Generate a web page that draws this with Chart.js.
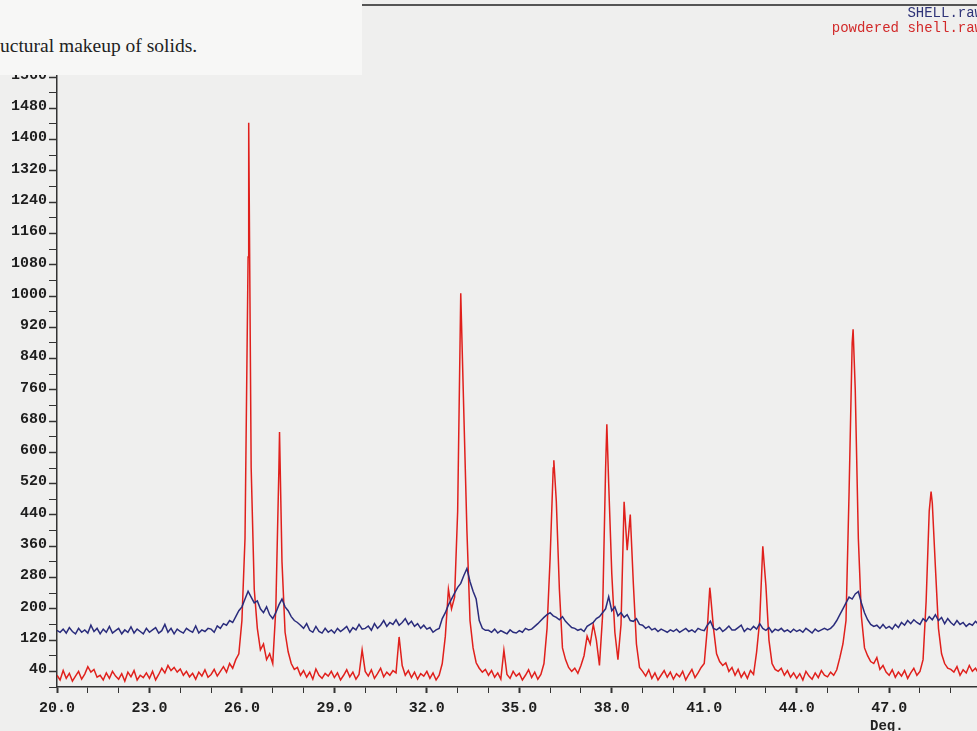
<!DOCTYPE html>
<html>
<head>
<meta charset="utf-8">
<script src="https://cdn.jsdelivr.net/npm/chart.js@4/dist/chart.umd.min.js"></script>
<style>
  html, body { margin: 0; padding: 0; background: #efefee; overflow: hidden; }
  #wrap { position: relative; width: 977px; height: 731px; }
  #scan { position: absolute; left: 0; top: 0; }
  .page-box { position: absolute; left: 0; top: 0; width: 362px; height: 75px; background: #f7f7f6; }
  .page-text { position: absolute; left: 0; top: 35px; font: 19.5px 'Liberation Serif', serif; color: #222; white-space: nowrap; }
  .top-rule { position: absolute; left: 362px; top: 4px; width: 615px; height: 2px; background: #555; }
  .legend { position: absolute; right: -6px; font: 14px 'Liberation Mono', monospace; white-space: nowrap; text-align: right; }
  .unit { position: absolute; left: 870px; top: 718px; font: bold 14px 'Liberation Mono', monospace; color: #222; }
</style>
</head>
<body>
<div id="wrap">
  <canvas id="scan" width="977" height="731"></canvas>
  <div class="page-box"><div class="page-text">uctural makeup of solids.</div></div>
  <div class="top-rule"></div>
  <div class="legend" style="top:5px;color:#2f3478">SHELL.raw</div>
  <div class="legend" style="top:20px;color:#d22a2a">powdered shell.raw</div>
  <div class="unit">Deg.</div>
</div>
<script>
// --- scan grid (2-theta, deg) -------------------------------------
const scanStart = 20.0;
const scanStep = 0.1;

// SHELL.raw counts, one row per degree (x.0 .. x.9), last value = 50.0
const shellCounts = [
  145, 140, 148, 138, 152, 142, 136, 150, 140, 146,
  138, 158, 142, 150, 136, 148, 140, 155, 138, 144,
  150, 136, 146, 140, 154, 138, 148, 142, 136, 150,
  140, 146, 152, 138, 144, 160, 140, 150, 136, 148,
  142, 138, 150, 144, 140, 156, 138, 146, 142, 150,
  148, 140, 156, 150, 162, 158, 170, 165, 180, 195,
  205, 225, 245, 230, 215, 220, 200, 190, 205, 185,
  175, 190, 210, 225, 205, 195, 180, 170, 165, 158,
  150, 162, 145, 140, 155, 142, 138, 150, 140, 146,
  138, 150, 142, 148, 155, 140, 152, 146, 160, 148,
  150, 156, 145, 162, 150, 158, 170, 155, 165, 160,
  172, 158, 165, 175, 160, 168, 155, 162, 150, 158,
  148, 152, 140, 146, 150, 175, 190, 210, 225, 240,
  255, 265, 285, 303, 270, 245, 225, 170, 150, 145,
  145, 140, 148, 138, 144, 140, 136, 146, 140, 138,
  144, 140, 150, 146, 148, 155, 162, 170, 178, 185,
  190, 182, 178, 172, 180, 168, 160, 152, 150, 145,
  148, 142, 155, 160, 165, 175, 180, 190, 200, 231,
  195, 205, 182, 190, 178, 185, 170, 168, 175, 160,
  158, 150, 155, 146, 150, 142, 148, 144, 140, 146,
  142, 148, 140, 145, 150, 142, 146, 140, 150, 146,
  144, 158, 168, 150, 146, 152, 142, 148, 156, 146,
  146, 152, 158, 142, 150, 146, 155, 148, 162, 150,
  145, 152, 140, 148, 144, 150, 142, 146, 140, 148,
  142, 146, 140, 150, 144, 138, 148, 142, 146, 150,
  146, 150, 158, 170, 185, 200, 215, 230, 225, 238,
  244, 215, 190, 172, 160, 155, 158, 150, 160, 150,
  155, 148, 160, 152, 165, 158, 170, 162, 172, 165,
  160, 175, 168, 180, 172, 185, 170, 178, 162, 175,
  165, 158, 170, 160, 165, 155, 162, 158, 168, 160,
  162
];

// powdered shell.raw counts on the same grid
const powderCounts = [
  30, 18, 42, 22, 35, 15, 28, 40, 20, 33,
  52, 38, 45, 25, 30, 18, 36, 22, 40, 28,
  20, 34, 15, 38, 26, 42, 18, 30, 24, 36,
  22, 40, 18, 32, 48, 36, 55, 42, 50, 38,
  46, 30, 40, 26, 35, 20, 38, 28, 44, 25,
  32, 45, 28, 40, 52, 38, 60, 48, 70, 85,
  170, 380, 1100, 560, 250, 150, 95, 110, 70, 85,
  60, 200, 560, 320, 140, 90, 60, 45, 50, 30,
  42, 25, 38, 20, 46, 30, 22, 35, 28, 40,
  24, 36, 18, 30, 44, 26, 38, 20, 32, 95,
  40, 28, 44, 22, 34, 48, 26, 38, 30, 42,
  36, 128, 55, 30, 42, 24, 38, 20, 34, 28,
  40, 22, 36, 18, 30, 60, 130, 250, 200, 230,
  450, 1007, 700, 400, 170, 100, 62, 48, 38, 45,
  30, 42, 25, 36, 20, 94, 32, 22, 40, 28,
  35, 18, 30, 44, 24, 38, 20, 32, 60, 150,
  330, 560, 476, 250, 100, 70, 50, 40, 48, 35,
  55, 80, 130, 110, 160, 120, 55, 180, 560, 520,
  290, 140, 70, 160, 474, 350, 441, 264, 110, 50,
  40, 28, 44, 22, 36, 18, 30, 42, 25, 38,
  20, 34, 26, 40, 18, 32, 45, 24, 36, 50,
  60, 150, 240, 150, 85, 65, 55, 62, 40, 50,
  30, 45, 25, 38, 22, 42, 32, 90, 170, 360,
  260, 120, 60, 45, 40, 48, 30, 42, 25, 36,
  22, 34, 18, 40, 28, 20, 36, 24, 42, 30,
  26, 38, 30, 44, 75, 110, 170, 500, 880, 760,
  380, 180, 100, 80, 65, 60, 75, 45, 55, 38,
  30, 44, 25, 38, 28, 42, 22, 36, 48, 30,
  40, 70, 220, 450, 470, 307, 150, 85, 60, 48,
  45, 38, 52, 30, 44, 36, 55, 40, 48, 35,
  42
];

// peak tops that fall between grid steps
const peakAngles = [26.22, 27.22, 36.12, 37.84, 41.18, 45.83, 48.36];
const peakCounts = [1443, 652, 580, 672, 254, 915, 500];

const xTicksLabelled = [20, 23, 26, 29, 32, 35, 38, 41, 44, 47, 50];

function toPoints(counts, extraX, extraY) {
  const pts = counts.map((c, i) => ({ x: +(scanStart + i * scanStep).toFixed(2), y: c }));
  (extraX || []).forEach((x, i) => pts.push({ x, y: extraY[i] }));
  return pts.sort((a, b) => a.x - b.x);
}

const TICK_FONT = { family: "'Liberation Mono', 'DejaVu Sans Mono', monospace", size: 15, weight: 'bold' };

new Chart(document.getElementById('scan').getContext('2d'), {
  type: 'line',
  data: {
    datasets: [
      {
        label: 'SHELL.raw',
        data: toPoints(shellCounts),
        borderColor: '#2a2c7c',
        borderWidth: 1.5,
        pointRadius: 0,
        tension: 0,
        fill: false,
      },
      {
        label: 'powdered shell.raw',
        data: toPoints(powderCounts, peakAngles, peakCounts),
        borderColor: '#e0201c',
        borderWidth: 1.5,
        pointRadius: 0,
        tension: 0,
        fill: false,
      }
    ]
  },
  options: {
    responsive: false,
    animation: false,
    layout: { padding: { top: 5, right: 0, left: 0, bottom: 0 } },
    plugins: { legend: { display: false }, tooltip: { enabled: false } },
    scales: {
      x: {
        type: 'linear',
        min: 20,
        max: 49.85,
        afterFit: s => { s.height = 44; },
        border: { display: true, color: '#333', width: 1.5 },
        grid: {
          drawOnChartArea: false,
          tickLength: 6,
          tickColor: '#333',
          tickWidth: c => xTicksLabelled.includes(Math.round(c.tick.value)) ? 2 : 1,
        },
        ticks: {
          stepSize: 1,
          includeBounds: false,
          autoSkip: false,
          maxRotation: 0,
          padding: 6,
          color: '#1e1e1e',
          font: TICK_FONT,
          callback: v => xTicksLabelled.includes(v) ? v.toFixed(1) : '',
        }
      },
      y: {
        min: 0,
        max: 1729,
        afterFit: s => { s.width = 57; },
        border: { display: true, color: '#333', width: 1.5 },
        grid: {
          drawOnChartArea: false,
          tickLength: 8,
          tickColor: '#333',
          tickWidth: c => c.tick.value % 80 === 40 ? 1.5 : 1,
        },
        ticks: {
          stepSize: 40,
          includeBounds: false,
          autoSkip: false,
          padding: 2,
          labelOffset: -2,
          color: '#1e1e1e',
          font: TICK_FONT,
          callback: v => v % 80 === 40 ? String(v) : '',
        }
      }
    }
  }
});
</script>
</body>
</html>
